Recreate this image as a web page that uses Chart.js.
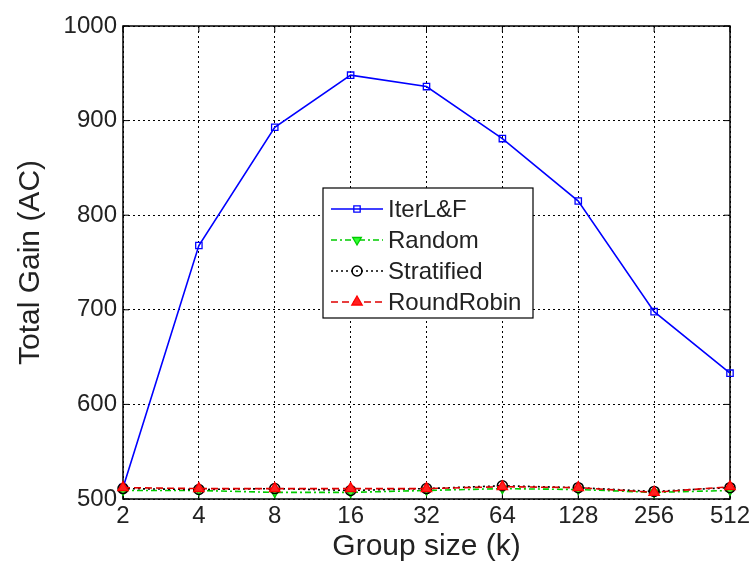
<!DOCTYPE html>
<html>
<head>
<meta charset="utf-8">
<script src="https://cdn.jsdelivr.net/npm/chart.js@4"></script>
<style>
  body { margin: 0; background: #fff; }
  #wrap { width: 754px; height: 565px; }
</style>
</head>
<body>
<div id="wrap"><canvas id="myChart" width="754" height="565"></canvas></div>
<script>
// data
const groupSizes = ['2', '4', '8', '16', '32', '64', '128', '256', '512'];
const iterLF     = [512, 768, 893, 948, 936, 881, 815, 698, 633];
const random     = [509, 509, 507, 507, 509, 511, 510, 507, 509];
const stratified = [511, 510, 511, 509, 511, 514, 512, 508, 512];
const roundRobin = [512, 511, 511, 511, 511, 513, 512, 507, 513];
const yTicks = [500, 600, 700, 800, 900, 1000];

const font = 'Liberation Sans, Arial, sans-serif';

// box around the axes + inward tick marks, matlab style
const frame = {
    id: 'frame',
    beforeDatasetsDraw(chart) {
        const ctx = chart.ctx;
        const a = chart.chartArea;
        const x = chart.scales.x, y = chart.scales.y;
        ctx.save();
        ctx.strokeStyle = '#000';
        ctx.lineWidth = 1.5;
        ctx.strokeRect(a.left, a.top, a.right - a.left, a.bottom - a.top);
        ctx.lineWidth = 1;
        ctx.beginPath();
        groupSizes.forEach((g, i) => {
            const px = x.getPixelForValue(i);
            ctx.moveTo(px, a.bottom); ctx.lineTo(px, a.bottom - 6);
            ctx.moveTo(px, a.top); ctx.lineTo(px, a.top + 6);
        });
        yTicks.forEach(v => {
            const py = y.getPixelForValue(v);
            ctx.moveTo(a.left, py); ctx.lineTo(a.left + 6, py);
            ctx.moveTo(a.right, py); ctx.lineTo(a.right - 6, py);
        });
        ctx.stroke();
        ctx.restore();
    }
};

// legend box sitting inside the plot
const boxLegend = {
    id: 'boxLegend',
    afterDraw(chart) {
        const ctx = chart.ctx;
        const x0 = 323, y0 = 188, w = 210, h = 130;
        ctx.save();
        ctx.fillStyle = '#fff';
        ctx.fillRect(x0, y0, w, h);
        ctx.strokeStyle = '#000';
        ctx.lineWidth = 1.2;
        ctx.strokeRect(x0, y0, w, h);
        chart.data.datasets.forEach((ds, i) => {
            const yy = y0 + 21 + i * 31;
            ctx.strokeStyle = ds.borderColor;
            ctx.lineWidth = ds.borderWidth;
            ctx.setLineDash(ds.borderDash || []);
            ctx.beginPath();
            ctx.moveTo(x0 + 8, yy);
            ctx.lineTo(x0 + 60, yy);
            ctx.stroke();
            ctx.setLineDash([]);
            ctx.strokeStyle = ds.pointBorderColor;
            ctx.fillStyle = ds.pointBackgroundColor;
            ctx.lineWidth = ds.pointBorderWidth;
            Chart.helpers.drawPoint(ctx, {
                pointStyle: ds.pointStyle,
                radius: ds.pointRadius,
                rotation: ds.pointRotation || 0,
                borderWidth: ds.pointBorderWidth
            }, x0 + 34, yy);
            ctx.fillStyle = '#222';
            ctx.font = '24px ' + font;
            ctx.textBaseline = 'middle';
            ctx.fillText(ds.label, x0 + 65, yy + 1);
        });
        ctx.restore();
    }
};

const ctx = document.getElementById('myChart').getContext('2d');
const chart = new Chart(ctx, {
    type: 'line',
    data: {
        labels: groupSizes,
        datasets: [{
            label: 'IterL&F',
            data: iterLF,
            borderColor: '#0000ff',
            borderWidth: 1.6,
            pointStyle: 'rect',
            pointRadius: 4.5,
            pointBorderColor: '#0000ff',
            pointBackgroundColor: 'rgba(0,0,0,0)',
            pointBorderWidth: 1.3,
            order: 3
        }, {
            label: 'Random',
            data: random,
            borderColor: '#00cc00',
            borderWidth: 1.6,
            borderDash: [6, 3, 2, 3],
            pointStyle: 'triangle',
            pointRotation: 180,
            pointRadius: 5,
            pointBorderColor: '#00cc00',
            pointBackgroundColor: '#33ff33',
            pointBorderWidth: 1.3,
            order: 2
        }, {
            label: 'Stratified',
            data: stratified,
            borderColor: '#000000',
            borderWidth: 1.6,
            borderDash: [2, 3],
            pointStyle: 'circle',
            pointRadius: 5,
            pointBorderColor: '#000000',
            pointBackgroundColor: 'rgba(0,0,0,0)',
            pointBorderWidth: 1.5,
            order: 1
        }, {
            label: 'RoundRobin',
            data: roundRobin,
            borderColor: '#e00000',
            borderWidth: 1.6,
            borderDash: [7, 4],
            pointStyle: 'triangle',
            pointRadius: 6,
            pointBorderColor: '#ff0000',
            pointBackgroundColor: '#ff2020',
            pointBorderWidth: 1.3,
            order: 0
        }]
    },
    options: {
        responsive: false,
        animation: false,
        layout: { padding: { left: 0, right: 24, top: 26, bottom: 0 } },
        plugins: {
            legend: { display: false },
            tooltip: { enabled: false }
        },
        scales: {
            x: {
                offset: false,
                grid: { color: '#000', lineWidth: 1, drawTicks: false },
                border: { display: false, dash: [2, 3] },
                ticks: { color: '#222', font: { family: font, size: 24 }, padding: 3, maxRotation: 0, autoSkip: false },
                title: { display: true, text: 'Group size (k)', color: '#222', font: { family: font, size: 30 }, padding: 0 },
                afterFit(scale) { scale.height = 66; scale.paddingLeft = 0; scale.paddingRight = 0; }
            },
            y: {
                min: 500,
                max: 1000,
                afterBuildTicks(scale) { scale.ticks = yTicks.map(v => ({ value: v })); },
                grid: { color: '#000', lineWidth: 1, drawTicks: false },
                border: { display: false, dash: [2, 3] },
                ticks: { color: '#222', font: { family: font, size: 24 }, padding: 6, callback: v => String(v) },
                title: { display: true, text: 'Total Gain (AC)', color: '#222', font: { family: font, size: 30 }, padding: { top: 13, bottom: 0 } },
                afterFit(scale) { scale.width = 123; scale.paddingTop = 0; scale.paddingBottom = 0; }
            }
        }
    },
    plugins: [frame, boxLegend]
});
</script>
</body>
</html>
